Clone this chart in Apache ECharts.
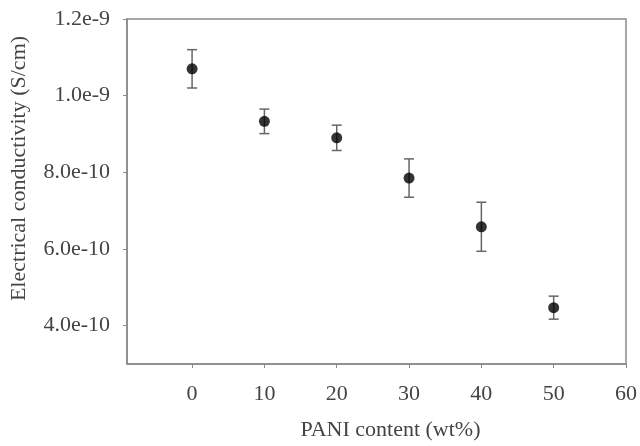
<!DOCTYPE html>
<html>
<head>
<meta charset="utf-8">
<script src="https://cdn.jsdelivr.net/npm/echarts@6/dist/echarts.min.js"></script>
<style>
  html, body { margin: 0; padding: 0; background: #fff; }
  #chart { width: 640px; height: 446px; }
</style>
</head>
<body>
<div id="chart"></div>
<script>
// PANI content (wt%)
const paniContent = [0, 10, 20, 30, 40, 50];
// conductivity (S/cm) and error (+/-)
const conductivity = [1.07e-9, 9.33e-10, 8.9e-10, 7.85e-10, 6.58e-10, 4.47e-10];
const condError = [0.5e-10, 0.32e-10, 0.33e-10, 0.5e-10, 0.64e-10, 0.3e-10];

const xTicks = [0, 10, 20, 30, 40, 50, 60];
const yTicks = [4e-10, 6e-10, 8e-10, 1e-9, 1.2e-9];
const yTickLabels = ["4.0e-10", "6.0e-10", "8.0e-10", "1.0e-9", "1.2e-9"];

const font = "Liberation Serif";
const textColor = "#444";
const lineColor = "#8a8a8a";

const chart = echarts.init(document.getElementById("chart"));

const errData = paniContent.map((x, i) => [x, conductivity[i] - condError[i], conductivity[i] + condError[i]]);
const points = paniContent.map((x, i) => [x, conductivity[i]]);

chart.setOption({
  animation: false,
  grid: {
    left: 127,
    right: 13,
    top: 19,
    bottom: 79,
    show: true,
    borderColor: lineColor,
    borderWidth: 1.5
  },
  xAxis: {
    type: "value",
    min: -9,
    max: 60,
    name: "PANI content (wt%)",
    nameLocation: "middle",
    nameGap: 55,
    nameTextStyle: { fontFamily: font, fontSize: 22, color: textColor, padding: [0, 0, 0, 28] },
    splitLine: { show: false },
    axisLine: { onZero: false, lineStyle: { color: lineColor, width: 1.5 } },
    axisTick: { customValues: xTicks, length: 4, lineStyle: { color: lineColor } },
    axisLabel: {
      customValues: xTicks,
      margin: 19,
      fontFamily: font,
      fontSize: 22,
      color: textColor
    }
  },
  yAxis: {
    type: "value",
    min: 3e-10,
    max: 1.2e-9,
    name: "Electrical conductivity (S/cm)",
    nameLocation: "middle",
    nameGap: 97,
    nameTextStyle: { fontFamily: font, fontSize: 22, color: textColor, padding: [0, 0, 0, 46] },
    splitLine: { show: false },
    axisLine: { onZero: false, lineStyle: { color: lineColor, width: 1.5 } },
    axisTick: { customValues: yTicks, length: 4, lineStyle: { color: lineColor } },
    axisLabel: {
      customValues: yTicks,
      margin: 17,
      fontFamily: font,
      fontSize: 22,
      color: textColor,
      formatter: function (v) {
        let best = 0;
        yTicks.forEach((t, i) => {
          if (Math.abs(t - v) < Math.abs(yTicks[best] - v)) best = i;
        });
        return yTickLabels[best];
      }
    }
  },
  series: [
    {
      type: "custom",
      data: errData,
      z: 1,
      renderItem: function (params, api) {
        const lo = api.coord([api.value(0), api.value(1)]);
        const hi = api.coord([api.value(0), api.value(2)]);
        const w = 5;
        const style = { stroke: "#666", lineWidth: 1.5 };
        return {
          type: "group",
          children: [
            { type: "line", shape: { x1: lo[0], y1: lo[1], x2: hi[0], y2: hi[1] }, style },
            { type: "line", shape: { x1: lo[0] - w, y1: lo[1], x2: lo[0] + w, y2: lo[1] }, style },
            { type: "line", shape: { x1: hi[0] - w, y1: hi[1], x2: hi[0] + w, y2: hi[1] }, style }
          ]
        };
      }
    },
    {
      type: "scatter",
      data: points,
      z: 2,
      symbol: "circle",
      symbolSize: 11,
      itemStyle: { color: "#000" }
    }
  ]
});
</script>
</body>
</html>
